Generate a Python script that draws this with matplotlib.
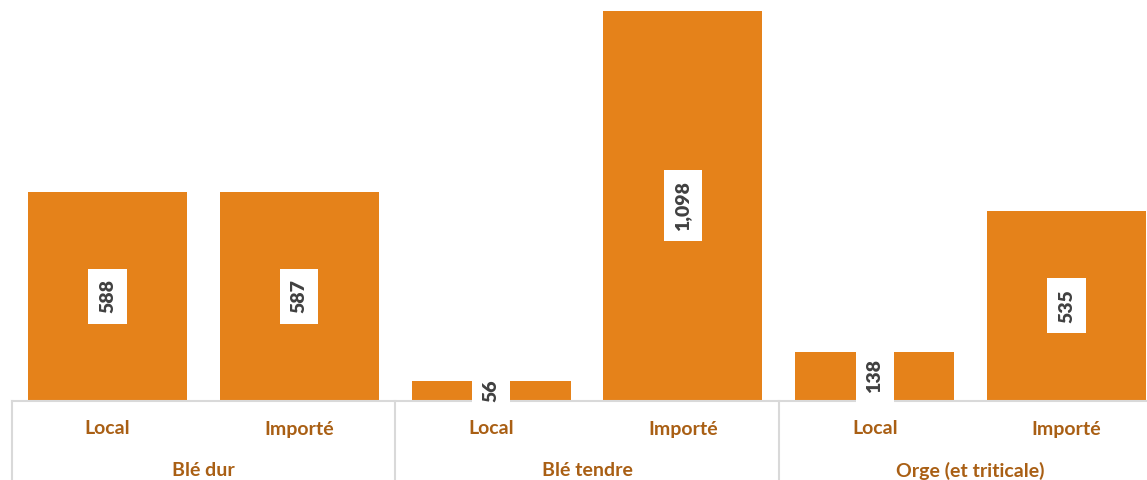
import matplotlib
matplotlib.use("Agg")
import matplotlib.pyplot as plt

groups = ["Blé dur", "Blé tendre", "Orge (et triticale)"]
subcats = ["Local", "Importé"]
values = [588, 587, 56, 1098, 138, 535]
value_labels = ["588", "587", "56", "1,098", "138", "535"]

BAR = "#E5821A"
LABEL = "#A95F14"
GRID = "#D9D9D9"
TXT = "#404040"
FONT = "Lato"

W, H = 1147, 480
fig = plt.figure(figsize=(W / 100, H / 100), dpi=100)
ax_left = 11.6 / W
ax_w = 1150.8 / W
ax_bottom = (H - 400.7) / H
ax_h = 400.7 / H
ax = fig.add_axes([ax_left, ax_bottom, ax_w, ax_h])

x = list(range(len(values)))
ax.bar(x, values, width=0.83, color=BAR, zorder=2)
ax.set_xlim(-0.5, len(values) - 0.5)
ax.set_ylim(0, 1129)
for s in ["top", "right", "left"]:
    ax.spines[s].set_visible(False)
ax.spines["bottom"].set_color(GRID)
ax.spines["bottom"].set_linewidth(1.5)
ax.spines["bottom"].set_zorder(3)
ax.set_xticks([])
ax.set_yticks([])

for xi, v, lab in zip(x, values, value_labels):
    ax.text(xi, v / 2, lab, rotation=90, ha="center", va="center",
            fontsize=14, fontweight="heavy", color=TXT, family=FONT,
            bbox=dict(boxstyle="square,pad=0.55", fc="white", ec="none"),
            zorder=5, clip_on=False)

trans = ax.get_xaxis_transform()
for xi in x:
    ax.text(xi, -28.3 / 400.7, subcats[xi % 2], ha="center", va="center",
            fontsize=14, fontweight="bold", color=LABEL, family=FONT,
            transform=trans, clip_on=False)
for gi, g in enumerate(groups):
    ax.text(2 * gi + 0.5, -70 / 400.7, g, ha="center", va="center",
            fontsize=14, fontweight="bold", color=LABEL, family=FONT,
            transform=trans, clip_on=False)
for b in [-0.5, 1.5, 3.5, 5.5]:
    ax.plot([b, b], [0, -0.25], color=GRID, lw=1.5, transform=trans,
            clip_on=False, zorder=1)

fig.savefig("out.png", dpi=100)
